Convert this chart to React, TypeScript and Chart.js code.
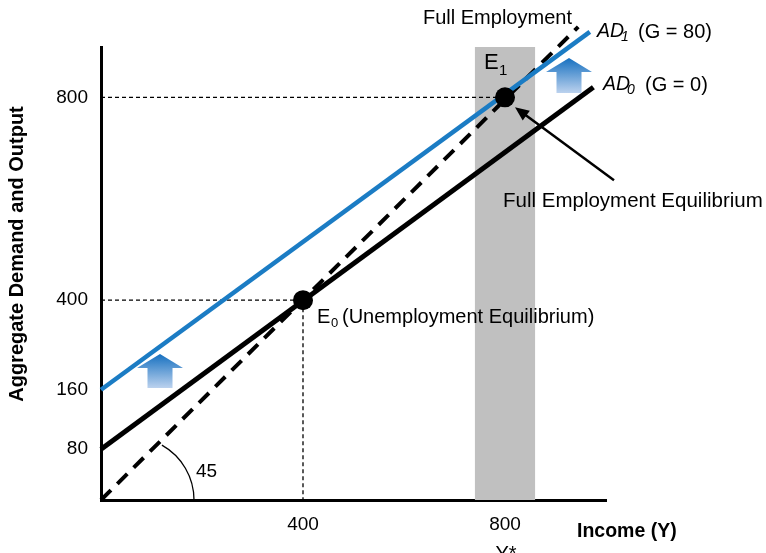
import React, { useEffect, useRef } from "react";
import { Chart, registerables, LinearScale } from "chart.js";

// ---- data ----
const xTickValues = [400, 800];
const yTickValues = [80, 160, 400, 800];
const line45X = [0, 945];
const line45Y = [0, 940];
const ad0X = [0, 975];
const ad0Y = [80, 820];
const ad1X = [0, 968];
const ad1Y = [160, 930];
const equilibriumX = [400, 800];
const equilibriumY = [400, 800];
const bandX = [740, 860];
const bandTop = 912;
const guide400X = [0, 400, 400];
const guide400Y = [400, 400, 0];
const guide800X = [0, 800];
const guide800Y = [800, 800];

// schematic (non-uniform) vertical axis spacing of the reference
const yWarp: [number, number][] = [[0, 0], [80, 101], [160, 219], [400, 397], [800, 800]];

function warp(v: number): number {
  if (v <= yWarp[0][0]) return v;
  for (let i = 0; i < yWarp.length - 1; i++) {
    const [a, ua] = yWarp[i];
    const [b, ub] = yWarp[i + 1];
    if (v <= b) return ua + ((v - a) / (b - a)) * (ub - ua);
  }
  const [l, ul] = yWarp[yWarp.length - 1];
  return ul + (v - l);
}
function unwarp(u: number): number {
  if (u <= yWarp[0][1]) return u;
  for (let i = 0; i < yWarp.length - 1; i++) {
    const [a, ua] = yWarp[i];
    const [b, ub] = yWarp[i + 1];
    if (u <= ub) return a + ((u - ua) / (ub - ua)) * (b - a);
  }
  const [l, ul] = yWarp[yWarp.length - 1];
  return l + (u - ul);
}

class WarpedScale extends (LinearScale as any) {
  static id = "warped";
  static defaults = (LinearScale as any).defaults;
  getPixelForValue(value: number) {
    const lo = warp(this.min), hi = warp(this.max);
    return this.getPixelForDecimal((warp(value) - lo) / (hi - lo));
  }
  getValueForPixel(pixel: number) {
    const lo = warp(this.min), hi = warp(this.max);
    return unwarp(lo + this.getDecimalForPixel(pixel) * (hi - lo));
  }
}

Chart.register(...registerables, WarpedScale as any);

const FONT = "'Liberation Sans', Arial, Helvetica, sans-serif";
const BLUE = "#1b7cc4";

const pts = (xs: number[], ys: number[]) => xs.map((x, i) => ({ x, y: ys[i] }));

function drawUpArrow(ctx: CanvasRenderingContext2D, cx: number, top: number, bottom: number) {
  const w = 46, sw = 25, hh = 14;
  const g = ctx.createLinearGradient(0, top, 0, bottom);
  g.addColorStop(0, "#1670c0");
  g.addColorStop(1, "#bcd2ee");
  ctx.save();
  ctx.fillStyle = g;
  ctx.beginPath();
  ctx.moveTo(cx, top);
  ctx.lineTo(cx + w / 2, top + hh);
  ctx.lineTo(cx + sw / 2, top + hh);
  ctx.lineTo(cx + sw / 2, bottom);
  ctx.lineTo(cx - sw / 2, bottom);
  ctx.lineTo(cx - sw / 2, top + hh);
  ctx.lineTo(cx - w / 2, top + hh);
  ctx.closePath();
  ctx.fill();
  ctx.restore();
}

const annotations = {
  id: "annotations",
  afterDraw(chart: any) {
    const ctx: CanvasRenderingContext2D = chart.ctx;
    const xs = chart.scales.x, ys = chart.scales.y;
    const X = (v: number) => xs.getPixelForValue(v);
    const Y = (v: number) => ys.getPixelForValue(v);
    const ox = X(0), oy = Y(0);
    const e0x = X(equilibriumX[0]), e0y = Y(equilibriumY[0]);
    const e1x = X(equilibriumX[1]), e1y = Y(equilibriumY[1]);
    ctx.save();
    ctx.fillStyle = "#000";
    ctx.strokeStyle = "#000";
    ctx.textBaseline = "middle";
    ctx.textAlign = "left";

    const text = (t: string, x: number, y: number, size: number, style = "") => {
      ctx.font = `${style} ${size}px ${FONT}`;
      ctx.fillText(t, x, y);
    };

    // 45 degree arc
    ctx.lineWidth = 1.3;
    ctx.beginPath();
    ctx.arc(ox + 30, oy, 63, -1.058, 0);
    ctx.stroke();
    text("45", ox + 95, oy - 28, 19);

    // labels
    text("Full Employment", 423, 18, 20);
    text("AD", 597, 32, 19.5, "italic");
    text("1", 621, 37, 14, "italic");
    text("(G = 80)", 638, 32, 20);
    text("AD", 603, 85, 19.5, "italic");
    text("0", 627, 90, 14, "italic");
    text("(G = 0)", 645, 85, 20);

    text("E", e1x - 21, e1y - 34, 22);
    text("1", e1x - 6, e1y - 26, 15);

    text("E", e0x + 14, e0y + 17, 20);
    text("0", e0x + 28, e0y + 23, 13);
    text("(Unemployment Equilibrium)", e0x + 39, e0y + 17, 20);

    text("Full Employment Equilibrium", 503, 201, 20.5);

    // pointer arrow to E1
    const tipX = e1x + 10, tipY = e1y + 10;
    const tailX = e1x + 109, tailY = e1y + 83;
    const ang = Math.atan2(tipY - tailY, tipX - tailX);
    ctx.lineWidth = 2.5;
    ctx.beginPath();
    ctx.moveTo(tailX, tailY);
    ctx.lineTo(tipX - 8 * Math.cos(ang), tipY - 8 * Math.sin(ang));
    ctx.stroke();
    ctx.beginPath();
    ctx.moveTo(tipX, tipY);
    ctx.lineTo(tipX - 14 * Math.cos(ang) + 6 * Math.sin(ang), tipY - 14 * Math.sin(ang) - 6 * Math.cos(ang));
    ctx.lineTo(tipX - 14 * Math.cos(ang) - 6 * Math.sin(ang), tipY - 14 * Math.sin(ang) + 6 * Math.cos(ang));
    ctx.closePath();
    ctx.fill();

    // shift arrows
    drawUpArrow(ctx, ox + 59, 354, 388);
    drawUpArrow(ctx, 569, 58, 93);

    // axis titles
    text("Income (Y)", 577, 532, 19.5, "bold");
    ctx.textAlign = "center";
    ctx.textBaseline = "top";
    text("Y*", e1x + 1, 544, 20);
    ctx.save();
    ctx.translate(17, 254);
    ctx.rotate(-Math.PI / 2);
    ctx.textBaseline = "middle";
    text("Aggregate Demand and Output", 0, 0, 20, "bold");
    ctx.restore();
    ctx.restore();
  },
};

export default function App() {
  const ref = useRef<HTMLCanvasElement | null>(null);
  useEffect(() => {
    if (!ref.current) return;
    Chart.defaults.font.family = FONT;
    Chart.defaults.color = "#000";
    const chart = new Chart(ref.current, {
      type: "scatter",
      data: {
        datasets: [
          {
            data: pts(equilibriumX, equilibriumY),
            showLine: false,
            pointRadius: 10,
            pointBackgroundColor: "#000",
            pointBorderWidth: 0,
            order: 0,
          },
          {
            data: pts(ad1X, ad1Y),
            showLine: true,
            borderColor: BLUE,
            borderWidth: 4.5,
            pointRadius: 0,
            clip: false,
            order: 1,
          },
          {
            data: pts(ad0X, ad0Y),
            showLine: true,
            borderColor: "#000",
            borderWidth: 5,
            pointRadius: 0,
            clip: false,
            order: 2,
          },
          {
            data: pts(line45X, line45Y),
            showLine: true,
            borderColor: "#000",
            borderWidth: 4,
            borderDash: [14, 9],
            pointRadius: 0,
            clip: false,
            order: 3,
          },
          {
            data: pts(guide400X, guide400Y),
            showLine: true,
            borderColor: "#000",
            borderWidth: 1.3,
            borderDash: [4, 3],
            pointRadius: 0,
            order: 4,
          },
          {
            data: pts(guide800X, guide800Y),
            showLine: true,
            borderColor: "#000",
            borderWidth: 1.3,
            borderDash: [4, 3],
            pointRadius: 0,
            order: 4,
          },
          {
            data: [{ x: bandX[0], y: bandTop }, { x: bandX[1], y: bandTop }],
            showLine: true,
            borderWidth: 0,
            borderColor: "rgba(0,0,0,0)",
            backgroundColor: "#c0c0c0",
            fill: "origin",
            pointRadius: 0,
            clip: false,
            order: 5,
          },
        ] as any,
      },
      options: {
        animation: false,
        responsive: false,
        events: [],
        layout: { padding: { left: 0, right: 160, top: 47, bottom: 0 } },
        plugins: { legend: { display: false }, tooltip: { enabled: false } },
        scales: {
          x: {
            type: "linear",
            min: 0,
            max: 1000,
            grid: { display: false, drawTicks: false },
            border: { display: true, color: "#000", width: 3 },
            ticks: { font: { size: 19 }, padding: 13, color: "#000" },
            afterBuildTicks: (s: any) => {
              s.ticks = xTickValues.map((v) => ({ value: v }));
            },
            afterFit: (s: any) => {
              s.height = 53;
            },
          },
          y: {
            type: "warped" as any,
            min: 0,
            max: 900,
            grid: { display: false, drawTicks: false },
            border: { display: true, color: "#000", width: 3 },
            ticks: { font: { size: 19 }, padding: 13, color: "#000" },
            afterBuildTicks: (s: any) => {
              s.ticks = yTickValues.map((v) => ({ value: v }));
            },
            afterFit: (s: any) => {
              s.width = 101;
            },
          },
        } as any,
      },
      plugins: [annotations],
    });
    return () => chart.destroy();
  }, []);
  return (
    <div style={{ position: "fixed", left: 0, top: 0, width: 766, height: 553, background: "#fff" }}>
      <canvas ref={ref} width={766} height={553} style={{ display: "block" }} />
    </div>
  );
}
